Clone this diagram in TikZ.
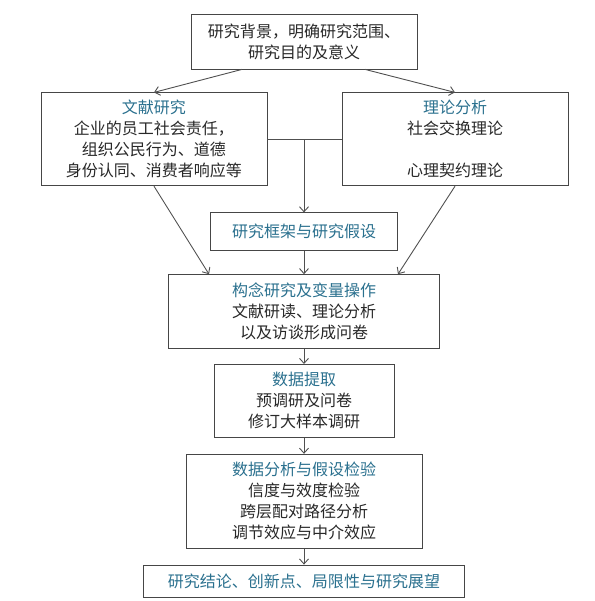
\documentclass[tikz,border=0pt]{standalone}
\usepackage{fontspec}
\setmainfont{Noto Sans CJK SC}
\usetikzlibrary{arrows.meta, positioning}
\definecolor{caixacinza}{RGB}{70, 70, 70}
\definecolor{linhacinza}{RGB}{80, 80, 80}
\definecolor{textocinza}{RGB}{40, 40, 40}
\definecolor{tituloazul}{RGB}{42, 112, 142}

\begin{document}
\begin{tikzpicture}[
                node distance=23pt,
                every node/.style={draw=caixacinza, line width=0.8pt, inner sep=0pt,
                    align=center, text=textocinza,
                    font=\fontsize{16}{21}\selectfont},
                titulo/.style={text=tituloazul},
                arrow/.style={-{Straight Barb[length=5pt, width=9pt]}, line width=0.9pt, color=linhacinza},
                line/.style={line width=0.9pt, color=linhacinza}
            ]
                \useasboundingbox (-304pt, 41.5pt) rectangle (290pt, -559.5pt);
                \node (bg)      [minimum width=226pt, minimum height=55pt]
                    {研究背景，明确研究范围、\\研究目的及意义};
                \node (lit)     [below=of bg, xshift=-150pt, minimum width=226pt, minimum height=93pt]
                    {\textcolor{tituloazul}{文献研究}\\企业的员工社会责任，\\组织公民行为、道德\\身份认同、消费者响应等};
                \node (theory)  [below=of bg, xshift=151pt, minimum width=226pt, minimum height=93pt]
                    {\textcolor{tituloazul}{理论分析}\\社会交换理论\\\mbox{}\\心理契约理论};
                \node (frame)   [below=143pt of bg, minimum width=187pt, minimum height=38pt, titulo]
                    {研究框架与研究假设};
                \node (constr)  [below=of frame, minimum width=271pt, minimum height=74pt]
                    {\textcolor{tituloazul}{构念研究及变量操作}\\文献研读、理论分析\\以及访谈形成问卷};
                \node (data)    [below=15pt of constr, minimum width=180pt, minimum height=73pt]
                    {\textcolor{tituloazul}{数据提取}\\预调研及问卷\\修订大样本调研};
                \node (analise) [below=16pt of data, minimum width=236pt, minimum height=94pt]
                    {\textcolor{tituloazul}{数据分析与假设检验}\\信度与效度检验\\跨层配对路径分析\\调节效应与中介效应};
                \node (concl)   [below=16pt of analise, minimum width=321pt, minimum height=32pt, titulo]
                    {研究结论、创新点、局限性与研究展望};
                \draw[arrow] ([xshift=-62pt]bg.south) -- (lit.north);
                \draw[arrow] ([xshift=61pt]bg.south)  -- (theory.north);
                \draw[line]  (lit.east) -- (theory.west);
                \draw[arrow] (lit.east -| frame.north) -- (frame.north);
                \draw[arrow] (lit.south)    -- ([xshift=-95pt]constr.north);
                \draw[arrow] (theory.south) -- ([xshift=94pt]constr.north);
                \draw[arrow] (frame)   -- (constr);
                \draw[arrow] (constr)  -- (data);
                \draw[arrow] (data)    -- (analise);
                \draw[arrow] (analise) -- (concl);
            \end{tikzpicture}
\end{document}
